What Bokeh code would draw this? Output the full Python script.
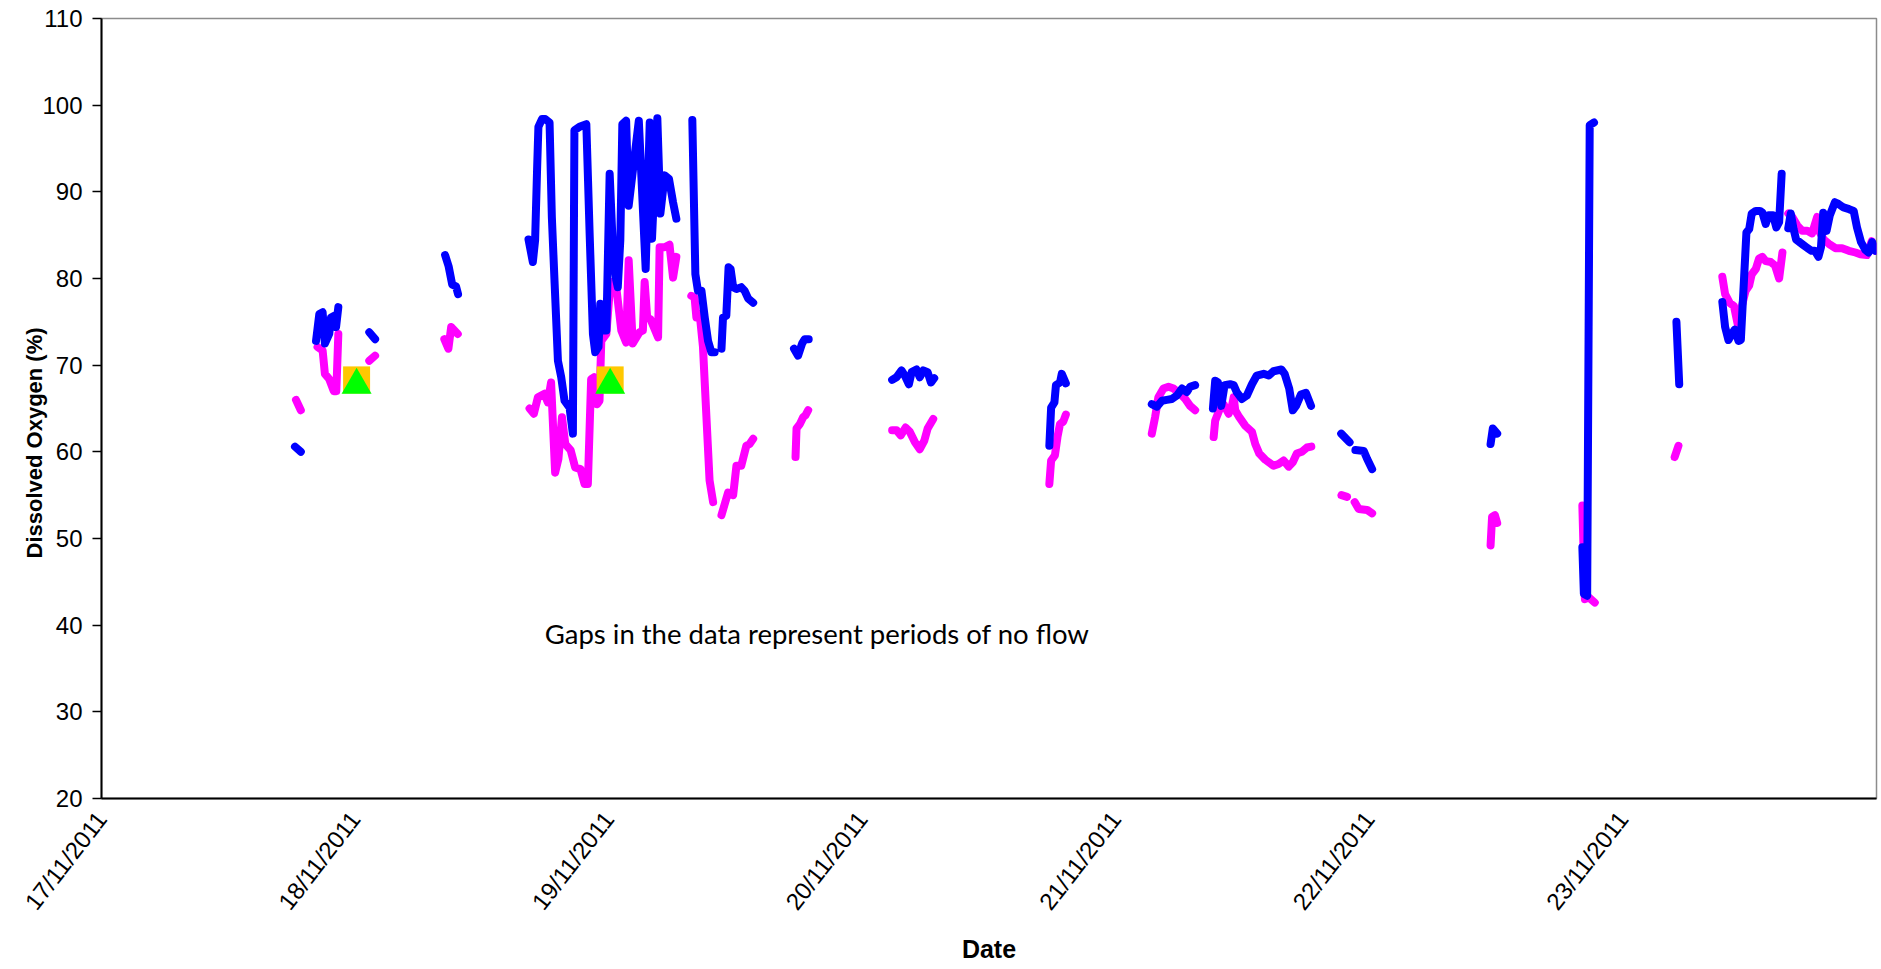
import math
from datetime import datetime
import numpy as np
from bokeh.plotting import figure
from bokeh.models import Range1d, FixedTicker, DatetimeTickFormatter, Label, Title
from bokeh.embed import file_html
from bokeh.resources import INLINE

# ---------------- data ----------------
# time = days since 17/11/2011 00:00 ; None = gap (no flow)
start_date = datetime(2011, 11, 17)
tick_labels = ["17/11/2011", "18/11/2011", "19/11/2011", "20/11/2011",
               "21/11/2011", "22/11/2011", "23/11/2011"]

t_blue = [0.763, 0.786, None,
          0.846, 0.859, 0.872, 0.881, 0.898, 0.905, 0.918, 0.925, 0.934, None,
          1.056, 1.079, None,
          1.355, 1.369, 1.383, 1.398, 1.406, None,
          1.684, 1.701, 1.710, 1.718, 1.723, 1.737, 1.750, 1.767, 1.776, 1.787, 1.800, 1.813,
          1.826, 1.846, 1.859, 1.865, 1.885, 1.912, 1.925, 1.938, 1.947, 1.960, 1.967, 1.977,
          1.991, 2.004, 2.017, 2.030, 2.036, 2.046, 2.054, 2.069, 2.079, 2.119, 2.146, 2.162,
          2.171, 2.192, 2.204, 2.221, 2.238, 2.254, 2.267, None,
          2.330, 2.342, 2.352, 2.366, 2.379, 2.392, 2.405, 2.418, None,
          2.445, 2.451, 2.464, 2.473, 2.481, 2.491, 2.504, 2.523, 2.536, 2.550, 2.570, None,
          2.731, 2.747, 2.763, 2.773, 2.789, None,
          3.118, 3.135, 3.155, 3.168, 3.184, 3.195, 3.214, 3.227, 3.241, 3.258, 3.271, 3.284, None,
          3.738, 3.745, 3.758, 3.764, 3.780, 3.787, 3.803, None,
          4.142, 4.162, 4.182, 4.201, 4.221, 4.241, 4.261, 4.280, 4.293, 4.313, None,
          4.383, 4.392, 4.403, 4.416, 4.429, 4.451, 4.465, 4.477, 4.497, 4.517, 4.537, 4.556,
          4.583, 4.603, 4.622, 4.653, 4.666, 4.684, 4.698, 4.711, 4.730, 4.750, 4.770, None,
          4.889, 4.922, None,
          4.945, 4.978, 4.991, 5.011, None,
          5.478, 5.487, 5.504, None,
          5.840, 5.846, 5.859, 5.869, 5.886, None,
          6.211, 6.222, None,
          6.392, 6.403, 6.416, 6.429, 6.441, 6.456, 6.465, 6.478, 6.487, 6.498, 6.508, 6.524,
          6.540, 6.550, 6.563, 6.574, 6.592, 6.605, 6.616, 6.626, None,
          6.652, 6.662, 6.673, 6.683, 6.692, 6.710, 6.728, 6.744, 6.757, 6.771, 6.781, 6.790,
          6.803, 6.816, 6.836, 6.850, 6.870, 6.892, 6.910, 6.923, 6.939, 6.956, 6.969, 6.983, 6.996]

do_blue = [60.6, 60.0, None,
           72.8, 75.9, 76.1, 72.5, 73.6, 75.5, 75.7, 74.4, 76.7, None,
           73.8, 73.0, None,
           82.7, 81.4, 79.3, 79.1, 78.2, None,
           84.5, 81.9, 84.4, 92.8, 97.5, 98.4, 98.4, 98.0, 87.1, 79.4, 70.5, 68.6,
           65.9, 65.1, 62.1, 97.1, 97.5, 97.8, 85.2, 73.6, 71.5, 72.1, 77.1, 74.0,
           74.0, 92.1, 83.2, 79.8, 79.0, 84.4, 97.8, 98.2, 88.4, 98.2, 81.1, 98.0,
           84.6, 98.5, 87.5, 91.9, 91.5, 88.8, 86.9, None,
           98.3, 80.5, 78.6, 78.6, 75.5, 72.8, 71.5, 71.5, None,
           71.9, 75.5, 75.7, 81.3, 81.1, 79.0, 78.8, 79.0, 78.6, 77.7, 77.2, None,
           71.9, 71.1, 72.5, 73.0, 73.0, None,
           68.3, 68.6, 69.4, 68.8, 67.8, 69.2, 69.5, 68.6, 69.4, 69.2, 68.0, 68.5, None,
           60.7, 65.1, 65.7, 67.7, 68.0, 69.0, 67.9, None,
           65.5, 65.2, 65.9, 66.0, 66.1, 66.5, 67.3, 66.9, 67.5, 67.7, None,
           65.0, 68.2, 68.0, 65.3, 67.7, 67.8, 67.7, 66.9, 66.1, 66.5, 67.8, 68.8,
           69.0, 68.8, 69.3, 69.5, 69.0, 67.3, 64.8, 65.3, 66.6, 66.8, 65.3, None,
           62.1, 61.1, None,
           60.2, 60.1, 59.2, 58.0, None,
           60.9, 62.7, 62.1, None,
           49.0, 43.6, 43.4, 97.7, 98.0, None,
           75.0, 67.8, None,
           77.3, 74.4, 72.9, 73.6, 74.1, 72.8, 72.9, 80.2, 85.3, 85.7, 87.5, 87.8,
           87.8, 87.6, 86.3, 87.3, 87.3, 85.9, 86.5, 92.1, None,
           85.8, 87.5, 85.7, 84.5, 84.3, 83.9, 83.5, 83.2, 83.2, 82.5, 83.6, 87.6,
           85.5, 87.3, 88.8, 88.6, 88.2, 88.0, 87.8, 85.9, 84.2, 83.3, 83.0, 84.2, 83.2]

t_magenta = [0.767, 0.786, None,
             0.852, 0.872, 0.881, 0.898, 0.916, 0.926, 0.934, None,
             1.056, 1.079, None,
             1.352, 1.368, 1.379, 1.405, None,
             1.688, 1.705, 1.721, 1.747, 1.760, 1.773, 1.789, 1.802, 1.816, 1.829, 1.850, 1.868,
             1.889, 1.905, 1.918, 1.931, 1.942, 1.955, 1.964, 1.971, 1.991, 2.004, 2.010, 2.030,
             2.050, 2.069, 2.079, 2.095, 2.122, 2.135, 2.142, 2.152, 2.165, 2.195, 2.201, 2.221,
             2.240, 2.254, 2.267, None,
             2.326, 2.339, 2.346, 2.359, 2.372, 2.385, 2.398, 2.412, None,
             2.445, 2.471, 2.491, 2.504, 2.523, 2.543, 2.556, 2.570, None,
             2.737, 2.741, 2.754, 2.767, 2.776, 2.787, None,
             3.118, 3.135, 3.152, 3.171, 3.188, 3.208, 3.227, 3.245, 3.258, 3.280, None,
             3.738, 3.745, 3.760, 3.770, 3.780, 3.793, 3.803, None,
             4.142, 4.155, 4.168, 4.188, 4.208, 4.228, 4.254, 4.274, 4.293, 4.313, None,
             4.386, 4.392, 4.408, 4.425, 4.434, 4.445, 4.458, 4.465, 4.471, 4.487, 4.511, 4.537,
             4.550, 4.566, 4.589, 4.622, 4.642, 4.662, 4.682, 4.698, 4.714, 4.734, 4.754, 4.771, None,
             4.890, 4.912, None,
             4.942, 4.958, 4.991, 5.011, None,
             5.478, 5.484, 5.495, 5.504, None,
             5.840, 5.844, 5.850, 5.866, 5.889, None,
             6.204, 6.219, None,
             6.392, 6.403, 6.421, 6.438, 6.452, 6.468, 6.484, 6.498, 6.508, 6.524, 6.537, 6.550,
             6.563, 6.583, 6.600, 6.616, 6.629, None,
             6.652, 6.668, 6.688, 6.707, 6.727, 6.746, 6.766, 6.773, 6.792, 6.812, 6.838, 6.864,
             6.891, 6.917, 6.936, 6.962, 6.981, 6.996]

do_magenta = [66.0, 64.8, None,
              72.1, 71.7, 69.0, 68.4, 67.0, 67.0, 73.6, None,
              70.5, 71.1, None,
              73.0, 71.9, 74.4, 73.6, None,
              65.0, 64.4, 66.3, 66.7, 65.7, 68.0, 57.6, 59.2, 64.0, 60.9, 60.2, 58.2,
              58.0, 56.3, 56.3, 68.4, 68.6, 65.5, 65.9, 72.8, 73.6, 78.5, 79.6, 79.0,
              74.0, 72.6, 82.1, 72.5, 73.8, 74.0, 79.6, 75.5, 75.3, 73.2, 83.6, 83.6,
              83.9, 80.1, 82.5, None,
              78.0, 77.8, 75.5, 75.9, 72.1, 64.4, 56.7, 54.2, None,
              52.7, 55.3, 55.0, 58.4, 58.4, 60.7, 60.9, 61.5, None,
              59.4, 62.7, 63.2, 64.0, 64.2, 64.8, None,
              62.5, 62.5, 61.9, 62.8, 62.3, 61.1, 60.3, 61.3, 62.7, 63.8, None,
              56.3, 59.0, 59.6, 61.7, 63.2, 63.5, 64.3, None,
              62.1, 64.0, 66.3, 67.3, 67.5, 67.3, 66.7, 66.1, 65.3, 64.8, None,
              61.7, 63.6, 64.8, 65.5, 65.0, 64.4, 65.3, 66.3, 64.8, 64.0, 63.0, 62.3,
              60.9, 59.8, 59.1, 58.4, 58.6, 59.0, 58.3, 58.8, 59.8, 60.0, 60.5, 60.6, None,
              55.0, 54.8, None,
              54.2, 53.4, 53.3, 52.9, None,
              49.2, 52.5, 52.7, 51.8, None,
              53.8, 49.4, 43.0, 43.2, 42.6, None,
              59.4, 60.7, None,
              80.2, 78.2, 77.2, 76.8, 74.8, 76.7, 78.6, 79.2, 80.5, 81.1, 82.3, 82.5,
              82.0, 81.9, 81.5, 80.0, 83.0, None,
              87.5, 87.1, 86.1, 85.5, 85.5, 85.2, 87.1, 85.5, 84.5, 84.0, 83.5, 83.5,
              83.2, 83.0, 82.8, 82.7, 84.3, 83.2]

# spot samples (orange square with green triangle)
t_spot = [1.006, 2.006]
do_spot = [68.3, 68.3]

annotation_text = "Gaps in the data represent periods of no flow"

# ---------------- helpers ----------------
DAY_MS = 86400000.0
base_ms = (start_date - datetime(1970, 1, 1)).total_seconds() * 1000.0


def to_ms(days):
    return np.array([np.nan if d is None else base_ms + d * DAY_MS for d in days], dtype=float)


def to_vals(vals):
    return np.array([np.nan if v is None else v for v in vals], dtype=float)


FONT = "Liberation Sans"

p = figure(width=1881, height=969, x_axis_type="datetime",
           output_backend="svg", toolbar_location=None,
           x_range=Range1d(base_ms, base_ms + 7 * DAY_MS), y_range=Range1d(20, 110),
           min_border_left=101, min_border_right=5, min_border_top=18, min_border_bottom=171)

p.background_fill_color = "white"
p.border_fill_color = "white"
p.outline_line_color = "#8c8c8c"
p.outline_line_width = 1.5
p.xgrid.visible = False
p.ygrid.visible = False

# lines: magenta below blue
p.line(to_ms(t_magenta), to_vals(do_magenta), line_color="#FF00FF", line_width=8,
       line_cap="round", line_join="round")
p.line(to_ms(t_blue), to_vals(do_blue), line_color="#0000FF", line_width=8,
       line_cap="round", line_join="round")

# markers
spot_x = to_ms(t_spot)
spot_y = to_vals(do_spot)
p.scatter(spot_x, spot_y, marker="square", size=27, fill_color="#FFC800", line_color=None)
p.scatter(spot_x, spot_y - 0.6, marker="triangle", size=30, fill_color="#00FF00", line_color=None)

# y axis
yax = p.yaxis[0]
yax.ticker = FixedTicker(ticks=list(range(20, 111, 10)))
yax.major_label_text_font = FONT
yax.major_label_text_font_size = "24px"
yax.major_label_text_color = "black"
yax.axis_line_color = "black"
yax.axis_line_width = 2
yax.major_tick_line_color = "black"
yax.major_tick_line_width = 1.5
yax.major_tick_out = 9
yax.major_tick_in = 0
yax.minor_tick_line_color = None
yax.major_label_standoff = 10

# y-axis title: starts 240 px above the frame bottom, as in the original
p.add_layout(Title(text="Dissolved Oxygen (%)", align="left", offset=240, standoff=-14,
                   text_font=FONT, text_font_style="bold", text_font_size="22px",
                   text_color="black"), "left")

# x axis
xax = p.xaxis[0]
ticks = [int(base_ms + i * DAY_MS) for i in range(len(tick_labels))]
xax.ticker = FixedTicker(ticks=ticks)
fmt = "%d/%m/%Y"
xax.formatter = DatetimeTickFormatter(days=fmt, months=fmt, hours=fmt, years=fmt)
xax.major_label_overrides = {t: lab for t, lab in zip(ticks, tick_labels)}
xax.major_label_orientation = 0.91
xax.major_label_text_font = FONT
xax.major_label_text_font_size = "24px"
xax.major_label_text_color = "black"
xax.axis_line_color = "black"
xax.axis_line_width = 2
xax.major_tick_out = 0
xax.major_tick_in = 0
xax.minor_tick_line_color = None
xax.major_label_standoff = 16
xax.axis_label = "Date"
xax.axis_label_text_font = FONT
xax.axis_label_text_font_style = "bold"
xax.axis_label_text_font_size = "25px"
xax.axis_label_text_color = "black"
xax.axis_label_standoff = 9

# annotation
p.add_layout(Label(x=base_ms + 1.748 * DAY_MS, y=39.0, text=annotation_text,
                   text_align="left", text_baseline="middle",
                   text_font="Lato", text_font_size="27.5px", text_color="black"))

open("out.html", "w").write(file_html(p, INLINE))
